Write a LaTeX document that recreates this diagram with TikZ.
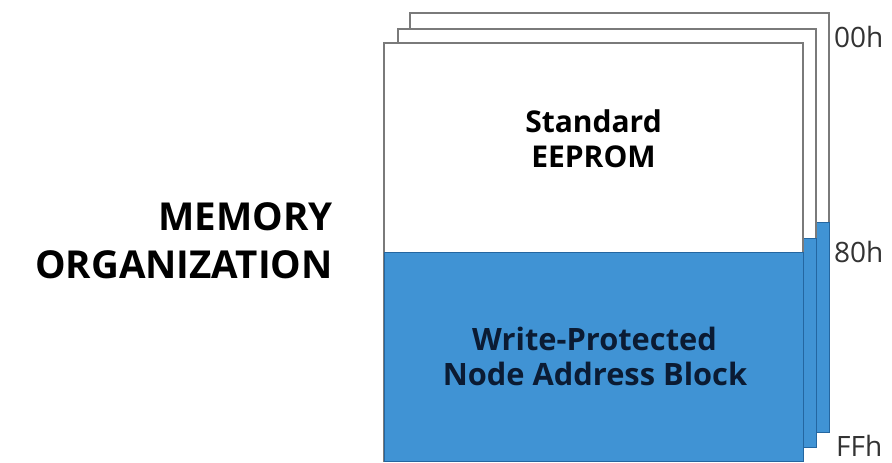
\documentclass[tikz,border=0pt]{standalone}
\usepackage{fontspec}
\setmainfont{Open Sans}
\definecolor{sheetline}{HTML}{7A7A7A}
\definecolor{memblue}{HTML}{4093D4}
\definecolor{memblueedge}{HTML}{2466A0}
\definecolor{navytext}{HTML}{0B1B33}
\definecolor{addrtext}{HTML}{333333}
\begin{document}
\begin{tikzpicture}[x=1pt,y=-1pt,
  sheet/.style={draw=sheetline,line width=1.3pt,fill=white},
  blueblock/.style={draw=memblueedge,line width=1pt,fill=memblue},
  title/.style={font=\fontsize{38.5}{48}\selectfont\bfseries,align=right,text=black,inner sep=0pt},
  region/.style={font=\fontsize{30}{35}\selectfont\bfseries,align=center,inner sep=0pt},
  bregion/.style={font=\fontsize{30.8}{35}\selectfont\bfseries,align=center,inner sep=0pt},
  addr/.style={font=\fontsize{28}{34}\selectfont,text=addrtext,inner sep=0pt,anchor=base west}]
\useasboundingbox (0,0) rectangle (892,463);
% back sheet
\draw[sheet] (410,13) rectangle (829,432);
\filldraw[blueblock] (410,222) rectangle (829,432);
% middle sheet
\draw[sheet] (398,29) rectangle (816,447);
\filldraw[blueblock] (398,238) rectangle (816,447);
% front sheet
\draw[sheet] (384,43) rectangle (803,461);
\filldraw[blueblock] (384,252) rectangle (803,461);
\draw[sheetline,line width=1.3pt] (384,252) -- (384,43) -- (803,43) -- (803,252);
% texts
\node[title,anchor=base east] (t1) at (333,230) {MEMORY};
\node[title,anchor=base east] (t2) at (333,278) {ORGANIZATION};
\node[region,anchor=base,text=black] (s1) at (593.5,132) {Standard};
\node[region,anchor=base,text=black] (s2) at (593.5,167) {EEPROM};
\node[bregion,anchor=base,text=navytext] (w1) at (594.5,350) {Write-Protected};
\node[bregion,anchor=base,text=navytext] (w2) at (595,385) {Node Address Block};
\node[addr] (a0) at (834,47) {00h};
\node[addr] (a8) at (834,262) {80h};
\node[addr] (af) at (836,456) {FFh};
\end{tikzpicture}
\end{document}
